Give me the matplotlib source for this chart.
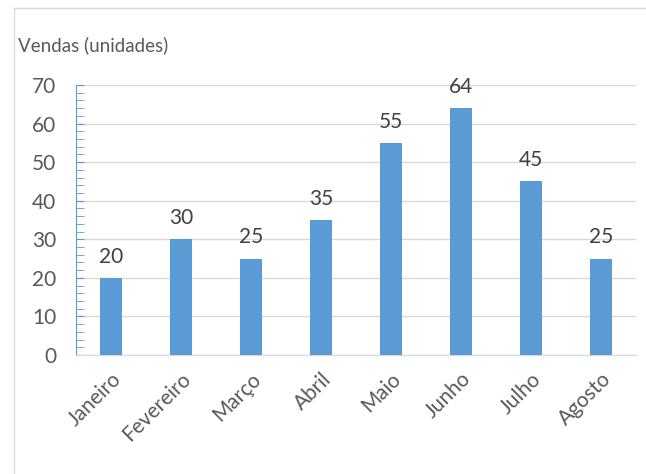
import numpy as np
import matplotlib.pyplot as plt
from matplotlib.lines import Line2D
from matplotlib.ticker import MultipleLocator

meses = ['Janeiro', 'Fevereiro', 'Março', 'Abril', 'Maio', 'Junho', 'Julho', 'Agosto']
vendas = [20, 30, 25, 35, 55, 64, 45, 25]

plt.rcParams['font.family'] = ['Lato', 'DejaVu Sans']

fig = plt.figure(figsize=(6.46, 4.74), dpi=100)
ax = fig.add_axes([0.1176, 0.251, 0.9845 - 0.1176, 0.8207 - 0.251])

x = np.arange(len(meses))
bars = ax.bar(x, vendas, width=0.31, color='#5B9BD5', zorder=3)

for b, v in zip(bars, vendas):
    ax.annotate(str(v), (b.get_x() + b.get_width() / 2, v), xytext=(0, 8),
                textcoords='offset points', ha='center', va='bottom',
                fontsize=15, color='#404040')

ax.set_xlim(-0.5, len(meses) - 0.5)
ax.set_ylim(0, 70)
ax.yaxis.set_major_locator(MultipleLocator(10))
ax.yaxis.set_minor_locator(MultipleLocator(2))
ax.grid(axis='y', color='#D9D9D9', lw=1, zorder=0)

ax.set_xticks(x)
ax.set_xticklabels(meses, rotation=45, ha='right', rotation_mode='anchor',
                   fontsize=15, color='#595959')
ax.tick_params(axis='x', length=0, pad=10)
ax.tick_params(axis='y', which='both', direction='in', color='#5B9BD5',
               labelsize=15, labelcolor='#595959', pad=14)
ax.tick_params(axis='y', which='major', length=6)
ax.tick_params(axis='y', which='minor', length=6)

for s in ['top', 'right']:
    ax.spines[s].set_visible(False)
ax.spines['left'].set_color('#5B9BD5')
ax.spines['bottom'].set_color('#D9D9D9')

fig.text(18 / 646, 1 - 45 / 474, 'Vendas (unidades)', fontsize=13.5,
         color='#595959', va='center', ha='left')

# moldura do gráfico
fig.add_artist(Line2D([14 / 646, 1], [1 - 8 / 474, 1 - 8 / 474],
                      transform=fig.transFigure, color='#D9D9D9', lw=1))
fig.add_artist(Line2D([14 / 646, 14 / 646], [0, 1 - 8 / 474],
                      transform=fig.transFigure, color='#D9D9D9', lw=1))

fig.savefig('out.png', dpi=100)
